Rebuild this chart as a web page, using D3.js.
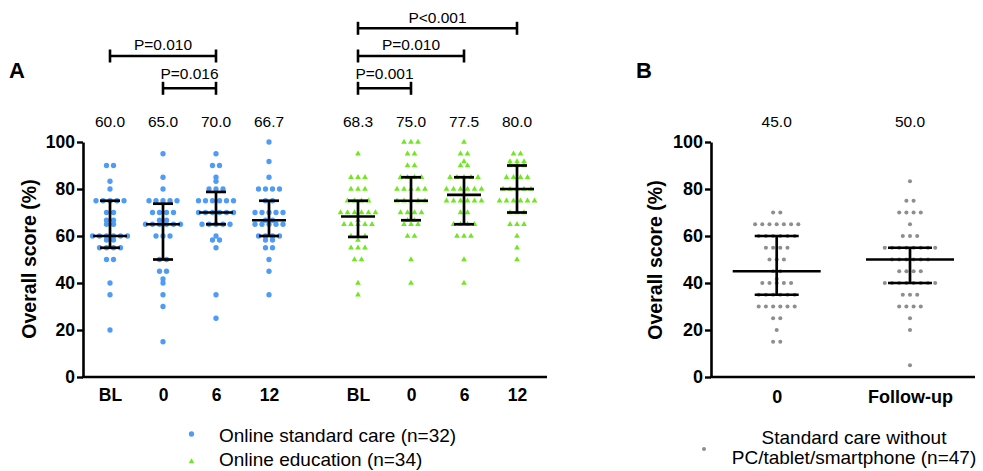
<!DOCTYPE html>
<html>
<head>
<meta charset="utf-8">
<script src="https://cdn.jsdelivr.net/npm/d3@7"></script>
<style>
  html, body { margin: 0; padding: 0; background: #fff; }
  svg { display: block; font-family: "Liberation Sans", Arial, Helvetica, sans-serif; }
</style>
</head>
<body>
<svg id="chart" width="983" height="471"></svg>
<script>
// ---- Data -------------------------------------------------------------
const yTicks = [0, 20, 40, 60, 80, 100];
const timepointsA = ["BL", "0", "6", "12"];
const groupsA = ["Online standard care (n=32)", "Online education (n=34)"];
const timepointsB = ["0", "Follow-up"];
const groupB = "Standard care without\nPC/tablet/smartphone (n=47)";

// Individual overall scores (%), online standard care
const standardBL = [90, 90, 83.3, 80, 75, 75, 75, 75, 75, 70, 70, 66.7, 66.7, 65, 65, 60, 60, 60, 60, 60, 60, 58.3, 58.3, 55, 55, 55, 55, 50, 50, 40, 35, 20];
const standard0 = [95, 85, 80, 75, 75, 75, 75, 75, 70, 70, 70, 70, 66.7, 66.7, 65, 65, 65, 65, 65, 65, 60, 60, 60, 50, 50, 45, 45, 41.7, 40, 35, 30, 15];
const standard6 = [95, 90, 90, 85, 83.3, 80, 80, 80, 75, 75, 75, 75, 75, 75, 70, 70, 70, 70, 70, 70, 65, 65, 65, 65, 65, 60, 58.3, 58.3, 55, 35, 25];
const standard12 = [100, 91.7, 85, 80, 80, 80, 80, 75, 75, 70, 70, 70, 70, 70, 66.7, 66.7, 65, 65, 65, 65, 65, 60, 60, 60, 60, 58.3, 58.3, 55, 55, 50, 45, 35];

// Individual overall scores (%), online education
const educationBL = [95, 85, 85, 85, 80, 80, 80, 75, 75, 75, 75, 70, 70, 70, 70, 70, 70, 66.7, 65, 65, 65, 65, 65, 60, 60, 60, 58.3, 55, 55, 55, 50, 50, 40, 35];
const education0 = [100, 100, 100, 95, 95, 90, 90, 85, 85, 85, 85, 80, 80, 80, 80, 80, 75, 75, 75, 75, 75, 70, 70, 70, 70, 66.7, 66.7, 65, 65, 65, 60, 60, 50, 40];
const education6 = [100, 95, 95, 91.7, 90, 90, 85, 85, 85, 85, 85, 80, 80, 80, 80, 80, 80, 75, 75, 75, 75, 75, 75, 70, 70, 65, 65, 65, 65, 60, 60, 60, 50, 40];
const education12 = [95, 95, 91.7, 91.7, 91.7, 90, 90, 90, 85, 85, 85, 85, 80, 80, 80, 80, 80, 75, 75, 75, 75, 75, 75, 70, 70, 70, 65, 65, 65, 60, 55, 50];

// Individual overall scores (%), standard care without devices
const noDevice0 = [70, 70, 65, 65, 65, 65, 65, 65, 65, 60, 60, 60, 60, 60, 60, 55, 55, 55, 55, 50, 50, 50, 45, 45, 41.7, 40, 40, 40, 40, 40, 35, 35, 35, 35, 35, 35, 30, 30, 30, 30, 30, 30, 25, 25, 20, 15, 15];
const noDeviceFU = [83.3, 75, 75, 70, 70, 70, 70, 65, 60, 60, 60, 55, 55, 55, 55, 55, 55, 55, 55, 50, 50, 50, 50, 50, 50, 45, 45, 45, 45, 40, 40, 40, 40, 40, 40, 40, 40, 35, 35, 35, 30, 30, 30, 30, 25, 20, 5];

// Median with interquartile range per column
const medianStandard = [60.0, 65.0, 70.0, 66.7];
const q1Standard = [55, 50, 65, 60];
const q3Standard = [75, 73.75, 78.75, 75];
const medianEducation = [68.3, 75.0, 77.5, 80.0];
const q1Education = [59.6, 66.7, 65, 70];
const q3Education = [75, 85, 85, 90];
const medianNoDevice = [45.0, 50.0];
const q1NoDevice = [35, 40];
const q3NoDevice = [60, 55];

// Pairwise comparisons (tier 0 = lowest bracket)
const comparisonsStandard = [
  { from: "BL", to: "6", label: "P=0.010", tier: 1 },
  { from: "0", to: "6", label: "P=0.016", tier: 0 }
];
const comparisonsEducation = [
  { from: "BL", to: "12", label: "P<0.001", tier: 2 },
  { from: "BL", to: "6", label: "P=0.010", tier: 1 },
  { from: "BL", to: "0", label: "P=0.001", tier: 0 }
];

// ---- Styling ----------------------------------------------------------
const BLUE = "#4f9cf6";
const GREEN = "#6ee81f";
const GREY = "#8e8e8e";
const svg = d3.select("#chart");

const y = d3.scaleLinear().domain([0, 100]).range([377, 142]);

// Lay out tied values side by side, centred on the column
function rowLayout(values, cx, step) {
  const groups = d3.group(values, v => v);
  const pts = [];
  for (const [v, arr] of groups) {
    arr.forEach((_, i) => pts.push({ v, x: cx + (i - (arr.length - 1) / 2) * step, y: y(v) }));
  }
  return pts;
}

function drawYAxis(x0, fontSize) {
  const g = svg.append("g").attr("transform", `translate(${x0},0)`)
    .call(d3.axisLeft(y).tickValues(yTicks).tickSize(6).tickSizeOuter(0).tickPadding(2));
  g.select(".domain").attr("stroke", "#000").attr("stroke-width", 2.6);
  g.selectAll(".tick line").attr("stroke", "#000").attr("stroke-width", 2.4);
  g.selectAll(".tick text").attr("fill", "#000").attr("font-size", fontSize)
    .attr("font-weight", "bold").attr("font-family", "'Liberation Sans', Arial, sans-serif");
  return g;
}

function drawErrorBar(cx, med, q1, q3, halfMed, halfCap) {
  const g = svg.append("g").attr("stroke", "#000").attr("stroke-width", 2.7).attr("fill", "none");
  g.append("line").attr("x1", cx).attr("x2", cx).attr("y1", y(q1)).attr("y2", y(q3));
  g.append("line").attr("x1", cx - halfMed).attr("x2", cx + halfMed).attr("y1", y(med)).attr("y2", y(med));
  g.append("line").attr("x1", cx - halfCap).attr("x2", cx + halfCap).attr("y1", y(q1)).attr("y2", y(q1));
  g.append("line").attr("x1", cx - halfCap).attr("x2", cx + halfCap).attr("y1", y(q3)).attr("y2", y(q3));
}

function yTitle(cx, cy) {
  svg.append("text").attr("transform", `translate(${cx},${cy}) rotate(-90)`)
    .attr("text-anchor", "middle").attr("dy", "0.35em")
    .attr("font-size", 19.5).attr("font-weight", "bold").text("Overall score (%)");
}

const circle = d3.symbol(d3.symbolCircle, 22);
const triangle = d3.symbol(d3.symbolTriangle, 14);

// ---- Panel A ----------------------------------------------------------
const xGroup = d3.scalePoint().domain(groupsA).range([189.5, 437.5]);
const xTime = d3.scalePoint().domain(timepointsA).range([-79.5, 79.5]);
const colX = (g, t) => xGroup(g) + xTime(t);

svg.append("text").attr("x", 9).attr("y", 77.5).attr("font-size", 22).attr("font-weight", "bold").text("A");

drawYAxis(83, 17.5);
yTitle(29, 259);
svg.append("line").attr("x1", 82).attr("x2", 547).attr("y1", y(0)).attr("y2", y(0))
  .attr("stroke", "#000").attr("stroke-width", 2.6);

const seriesA = [
  { group: groupsA[0], cols: [standardBL, standard0, standard6, standard12], med: medianStandard, q1: q1Standard, q3: q3Standard, color: BLUE, sym: circle, comps: comparisonsStandard },
  { group: groupsA[1], cols: [educationBL, education0, education6, education12], med: medianEducation, q1: q1Education, q3: q3Education, color: GREEN, sym: triangle, comps: comparisonsEducation }
];

seriesA.forEach(s => {
  // time-point labels under the axis
  const ax = svg.append("g").attr("transform", `translate(${xGroup(s.group)},377)`)
    .call(d3.axisBottom(xTime).tickSize(0).tickPadding(11.5));
  ax.select(".domain").remove();
  ax.selectAll(".tick text").attr("fill", "#000").attr("font-size", 17.5).attr("font-weight", "bold")
    .attr("font-family", "'Liberation Sans', Arial, sans-serif");

  timepointsA.forEach((t, i) => {
    const cx = colX(s.group, t);
    svg.append("g").selectAll("path").data(rowLayout(s.cols[i], cx, 7)).join("path")
      .attr("d", s.sym).attr("transform", d => `translate(${d.x},${d.y})`).attr("fill", s.color);
    drawErrorBar(cx, s.med[i], s.q1[i], s.q3[i], 17, 10);
    svg.append("text").attr("x", cx).attr("y", 126.5).attr("text-anchor", "middle")
      .attr("font-size", 15.5).text(d3.format(".1f")(s.med[i]));
  });

  // significance brackets
  const lineY = [88.3, 56, 28.3];
  const labelY = [78.5, 49.5, 22.7];
  s.comps.forEach(c => {
    const x1 = colX(s.group, c.from), x2 = colX(s.group, c.to);
    const ly = lineY[c.tier];
    const g = svg.append("g").attr("stroke", "#000").attr("stroke-width", 2.6);
    g.append("line").attr("x1", x1).attr("x2", x2).attr("y1", ly).attr("y2", ly);
    g.append("line").attr("x1", x1).attr("x2", x1).attr("y1", ly - 6.5).attr("y2", ly + 6.5);
    g.append("line").attr("x1", x2).attr("x2", x2).attr("y1", ly - 6.5).attr("y2", ly + 6.5);
    svg.append("text").attr("x", (x1 + x2) / 2).attr("y", labelY[c.tier]).attr("text-anchor", "middle")
      .attr("font-size", 15.5).text(c.label);
  });
});

// Panel A legend
seriesA.forEach((s, i) => {
  svg.append("path").attr("d", s.sym).attr("fill", s.color)
    .attr("transform", `translate(191.5,${434 + i * 27.5})`);
  svg.append("text").attr("x", 219).attr("y", 441.5 + i * 24.5).attr("font-size", 19).text(s.group);
});

// ---- Panel B ----------------------------------------------------------
const xB = d3.scalePoint().domain(timepointsB).range([776.7, 910]);
const colsB = [noDevice0, noDeviceFU];
const grey = d3.symbol(d3.symbolCircle, 13);

svg.append("text").attr("x", 636).attr("y", 77.5).attr("font-size", 22).attr("font-weight", "bold").text("B");
drawYAxis(711, 18);
yTitle(655, 260);
svg.append("line").attr("x1", 710).attr("x2", 975).attr("y1", y(0)).attr("y2", y(0))
  .attr("stroke", "#000").attr("stroke-width", 2.6);

const axB = svg.append("g").attr("transform", "translate(0,377)")
  .call(d3.axisBottom(xB).tickSize(0).tickPadding(13));
axB.select(".domain").remove();
axB.selectAll(".tick text").attr("fill", "#000").attr("font-size", 18).attr("font-weight", "bold")
  .attr("font-family", "'Liberation Sans', Arial, sans-serif");

timepointsB.forEach((t, i) => {
  const cx = xB(t);
  svg.append("g").selectAll("path").data(rowLayout(colsB[i], cx, 7.2)).join("path")
    .attr("d", grey).attr("transform", d => `translate(${d.x},${d.y})`).attr("fill", GREY);
  drawErrorBar(cx, medianNoDevice[i], q1NoDevice[i], q3NoDevice[i], 44, 22);
  svg.append("text").attr("x", cx).attr("y", 126.5).attr("text-anchor", "middle")
    .attr("font-size", 15.5).text(d3.format(".1f")(medianNoDevice[i]));
});

// Panel B legend
svg.append("path").attr("d", grey).attr("fill", GREY).attr("transform", "translate(704,449)");
const lt = svg.append("text").attr("x", 854).attr("text-anchor", "middle").attr("font-size", 19);
groupB.split("\n").forEach((line, i) => {
  lt.append("tspan").attr("x", 854).attr("y", 443.5 + i * 20.5).text(line);
});
</script>
</body>
</html>
